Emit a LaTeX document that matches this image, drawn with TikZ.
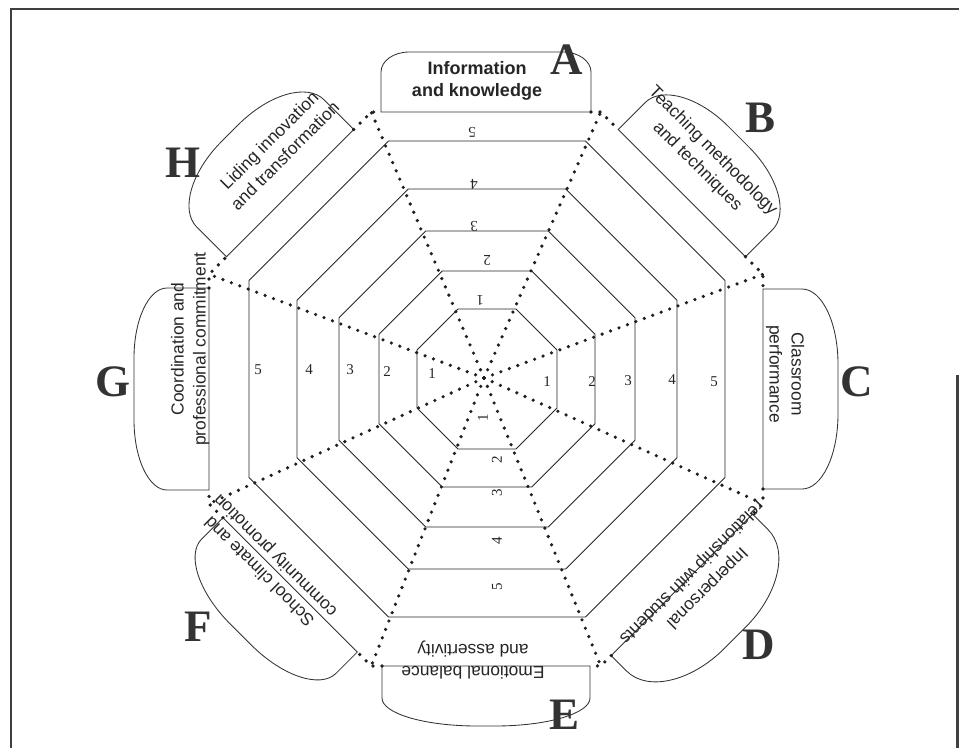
\documentclass[tikz,border=0pt]{standalone}
\usepackage{fontspec}
\setmainfont{Liberation Serif}
\newfontfamily\tabfont{Liberation Sans}
\usetikzlibrary{calc}
\newcommand\mytab[6]{% #1 name, #2 angle, #3 half width, #4 height, #5 straight side, #6 corner run
  \begin{scope}[shift={($(Oo)+(#2:277)$)}, rotate=#2-90]
    \draw[tabline] (-#3,0) -- (-#3,#5)
      .. controls (-#3,{#5+0.552*(#4-#5)}) and ({-#3+0.448*#6},#4) .. ({-#3+#6},#4)
      -- ({#3-#6},#4)
      .. controls ({#3-0.448*#6},#4) and (#3,{#5+0.552*(#4-#5)}) .. (#3,#5)
      -- (#3,0) -- cycle;
    \coordinate (#1l) at (-#3,0);
    \coordinate (#1r) at (#3,0);
  \end{scope}}
\begin{document}
\begin{tikzpicture}[x=1pt,y=1pt,
  ring/.style={line width=0.85pt, black!85},
  tabline/.style={line width=0.85pt, black!80},
  dotline/.style={line width=3.6pt, line cap=round, dash pattern=on 0pt off 9pt, black!88},
  frame/.style={line width=2.6pt, black!75},
  tabtext/.style={font=\tabfont\fontsize{17.4}{22}\selectfont, align=center, inner sep=0pt, text=black!85},
  letter/.style={font=\bfseries\fontsize{45}{45}\selectfont, inner sep=0pt, text=black!80},
  lvl/.style={font=\fontsize{15}{15}\selectfont, inner sep=0pt, text=black!85}]
\useasboundingbox (0,0) rectangle (959,-748);
% frame
\draw[frame] (11,-748) -- (11,-9) -- (959,-9);
\draw[frame] (957.5,-375) -- (957.5,-748);
% centres
\coordinate (Oc) at (484,-378);
\coordinate (Or) at (487,-379);
\coordinate (Oo) at (486,-389);
% rings
\begin{scope}[shift={(Or)}]
\foreach \L in {70,108,148,190,238}{
  \draw[ring] (22.5:{\L*1.0824}) -- (67.5:{\L*1.0824}) -- (112.5:{\L*1.0824}) -- (157.5:{\L*1.0824})
    -- (202.5:{\L*1.0824}) -- (247.5:{\L*1.0824}) -- (292.5:{\L*1.0824}) -- (337.5:{\L*1.0824}) -- cycle;
}
\end{scope}
% outer vertices
\foreach \n/\a in {AB/67.5, BC/22.5, CD/-22.5, DE/-67.5, EF/-112.5, FG/-157.5, GH/157.5, HA/112.5}
  \coordinate (v\n) at ($(Oo)+(\a:299.8)$);
% tabs
\mytab{A}{90}{105}{60}{40}{28}
\mytab{B}{45}{90}{80}{38}{75}
\mytab{C}{0}{100}{75}{39}{75}
\mytab{D}{-45}{100}{75}{22}{85}
\mytab{E}{-90}{104}{60}{32}{95}
\mytab{F}{-135}{95}{70}{30}{80}
\mytab{G}{180}{101}{75}{42}{70}
\mytab{H}{135}{90}{85}{42}{78}
% dotted radial lines and connectors
\foreach \n in {AB,BC,CD,DE,EF,FG,GH,HA}
  \draw[dotline] (Oc) -- (v\n);
\draw[dotline] (Ar) -- (vAB) -- (Bl);
\draw[dotline] (Br) -- (vBC) -- (Cl);
\draw[dotline] (Cr) -- (vCD) -- (Dl);
\draw[dotline] (Dr) -- (vDE) -- (El);
\draw[dotline] (Er) -- (vEF) -- (Fl);
\draw[dotline] (Fr) -- (vFG) -- (Gl);
\draw[dotline] (Gr) -- (vGH) -- (Hl);
\draw[dotline] (Hr) -- (vHA) -- (Al);
% tab texts
\node[tabtext, font=\tabfont\bfseries\fontsize{18}{22.5}\selectfont] (tA) at (477,-81) {Information\\and knowledge};
\node[tabtext, rotate=-45] (tB) at (705,-159) {Teaching methodology\\and techniques};
\node[tabtext, rotate=-90] (tC) at (785,-374) {Classroom\\performance};
\node[tabtext, rotate=-135] (tD) at (699,-580) {Inperpersonal\\relationship with students};
\node[tabtext, rotate=180] (tE) at (473,-660) {Emotional balance\\and assertivity};
\node[tabtext, rotate=135] (tF) at (268,-563) {School climate and\\community promotion};
\node[tabtext, rotate=90] (tG) at (190,-349) {Coordination and\\professional commitment};
\node[tabtext, rotate=45] (tH) at (277,-148) {Liding innovation\\and transformation};
% letters
\node[letter] (LA) at (567,-60) {A};
\node[letter] (LB) at (760,-118) {B};
\node[letter] (LC) at (857,-382) {C};
\node[letter] (LD) at (759,-645) {D};
\node[letter] (LE) at (565,-715) {E};
\node[letter] (LF) at (198,-627) {F};
\node[letter] (LG) at (113,-382) {G};
\node[letter] (LH) at (183,-163) {H};
% level numbers
\foreach \t/\x/\y in {5/472/132, 4/474/184, 3/474/226, 2/487/260, 1/480/300}
  \node[lvl, rotate=180] (la\t) at (\x,-\y) {\t};
\foreach \t/\x/\y in {1/547/382, 2/592/382, 3/628/381, 4/672/380, 5/714/382}
  \node[lvl] (lc\t) at (\x,-\y) {\t};
\foreach \t/\x/\y in {1/432/374, 2/387/372, 3/350/370, 4/309/370, 5/258/370}
  \node[lvl] (lg\t) at (\x,-\y) {\t};
\foreach \t/\x/\y in {1/483/418, 2/497/460, 3/497/493, 4/497/541, 5/497/587}
  \node[lvl, rotate=90] (le\t) at (\x,-\y) {\t};
\end{tikzpicture}
\end{document}
